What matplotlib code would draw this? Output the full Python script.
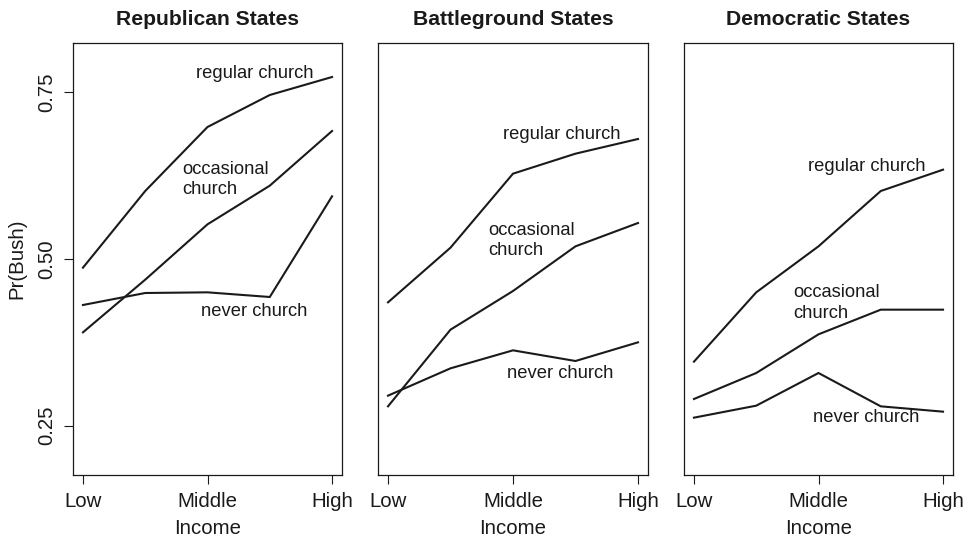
import matplotlib
matplotlib.use("Agg")
import matplotlib.pyplot as plt

plt.rcParams['font.family'] = ['Liberation Sans', 'DejaVu Sans']

INK = '#1a1a1a'

# income positions (Low .. High)
income = [1, 2, 3, 4, 5]
income_ticks = [1, 3, 5]
income_labels = ['Low', 'Middle', 'High']

titles = ['Republican States', 'Battleground States', 'Democratic States']

# Pr(Bush) by church attendance, one list per panel
regular = [
    [0.487, 0.602, 0.698, 0.746, 0.773],
    [0.435, 0.517, 0.628, 0.658, 0.680],
    [0.346, 0.450, 0.519, 0.602, 0.634],
]
occasional = [
    [0.390, 0.469, 0.552, 0.610, 0.692],
    [0.279, 0.394, 0.452, 0.519, 0.554],
    [0.290, 0.329, 0.387, 0.424, 0.424],
]
never = [
    [0.431, 0.449, 0.450, 0.443, 0.594],
    [0.295, 0.336, 0.363, 0.347, 0.375],
    [0.262, 0.280, 0.329, 0.279, 0.271],
]

# label anchor points (x, y) per panel
regular_lab = [(3.76, 0.778), (3.78, 0.686), (3.78, 0.639)]
occasional_lab = [(2.6, 0.619), (2.61, 0.528), (2.6, 0.434)]
never_lab = [(3.75, 0.422), (3.75, 0.329), (3.76, 0.262)]

y_ticks = [0.25, 0.50, 0.75]

ANN = 13.2   # annotation font size
LAB = 14.7   # tick / axis label size

fig = plt.figure(figsize=(9.65, 5.39), dpi=100)

#panel positions in pixels: left, right
panel_px = [(73, 342), (378, 648), (684, 953)]
top_px, bottom_px = 43, 475
W, H = 965, 539

for i, (l, r) in enumerate(panel_px):
    ax = fig.add_axes([l / W, (H - bottom_px) / H, (r - l) / W, (bottom_px - top_px) / H])

    for series in (regular, occasional, never):
        ax.plot(income, series[i], color=INK, lw=1.5, solid_joinstyle='miter')

    x, y = regular_lab[i]
    ax.text(x, y, 'regular church', ha='center', va='center', fontsize=ANN, color=INK)
    x, y = occasional_lab[i]
    ax.text(x, y, 'occasional\nchurch', ha='left', va='center', fontsize=ANN,
            color=INK, linespacing=1.25)
    x, y = never_lab[i]
    ax.text(x, y, 'never church', ha='center', va='center', fontsize=ANN, color=INK)

    ax.set_xlim(0.84, 5.16)
    ax.set_ylim(0.176, 0.824)
    ax.set_xticks(income_ticks)
    ax.set_xticklabels(income_labels)
    ax.tick_params(axis='x', direction='out', length=6.2, width=0.8, pad=6,
                   labelsize=LAB, colors=INK)
    ax.set_xlabel('Income', fontsize=LAB, color=INK, labelpad=6)
    ax.set_title(titles[i], fontsize=15.2, fontweight='bold', color=INK, pad=13)

    if i == 0:
        ax.set_yticks(y_ticks)
        ax.set_yticklabels(['%.2f' % v for v in y_ticks])
        ax.tick_params(axis='y', direction='out', length=6.2, width=0.8, pad=6,
                       labelsize=LAB, colors=INK, labelrotation=90)
        plt.setp(ax.get_yticklabels(), va='center')
        ax.set_ylabel('Pr(Bush)', fontsize=LAB, color=INK, labelpad=8)
    else:
        ax.set_yticks([])

    for s in ax.spines.values():
        s.set_linewidth(0.9)
        s.set_color(INK)

fig.savefig('out.png', dpi=100)
